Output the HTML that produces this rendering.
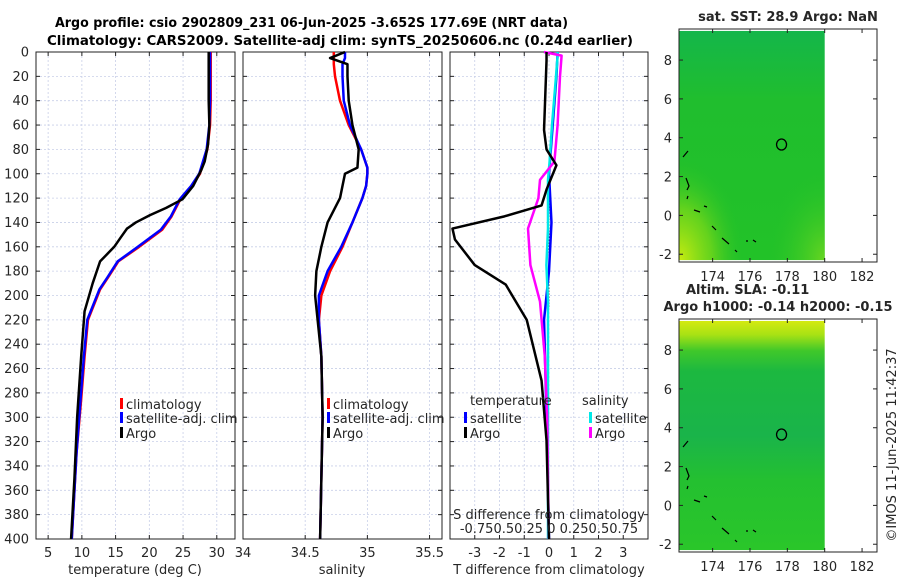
<!DOCTYPE html>
<html><head><meta charset="utf-8">
<style>
body{margin:0;background:#fff;}
svg{display:block;font-family:"DejaVu Sans","Liberation Sans",sans-serif;}
</style></head>
<body>
<svg id="c" width="900" height="580" viewBox="0 0 900 580">
<defs>
<linearGradient id="m1" x1="0" y1="0" x2="0" y2="1">
<stop offset="0" stop-color="#14b64a"/><stop offset="0.3" stop-color="#20be2e"/><stop offset="1" stop-color="#22c228"/>
</linearGradient>
<radialGradient id="m1c" cx="0" cy="1" r="0.45">
<stop offset="0" stop-color="#c8ec10" stop-opacity="1"/><stop offset="0.5" stop-color="#80da18" stop-opacity="0.7"/><stop offset="1" stop-color="#22c228" stop-opacity="0"/>
</radialGradient>
<radialGradient id="m1d" cx="1" cy="1" r="0.4">
<stop offset="0" stop-color="#70d820" stop-opacity="0.9"/><stop offset="1" stop-color="#22c228" stop-opacity="0"/>
</radialGradient>
<linearGradient id="m2" x1="0" y1="0" x2="0" y2="1">
<stop offset="0" stop-color="#d4ea10"/><stop offset="0.06" stop-color="#a8e214"/><stop offset="0.13" stop-color="#40c82a"/><stop offset="0.22" stop-color="#1cb840"/><stop offset="0.5" stop-color="#1ab44a"/><stop offset="0.7" stop-color="#24c030"/><stop offset="1" stop-color="#2ac62a"/>
</linearGradient>
</defs>
<text x="55" y="27" textLength="513" lengthAdjust="spacingAndGlyphs" font-size="13.5" font-weight="bold">Argo profile: csio 2902809_231 06-Jun-2025 -3.652S 177.69E (NRT data)</text>
<text x="47" y="45" textLength="586" lengthAdjust="spacingAndGlyphs" font-size="13.5" font-weight="bold">Climatology: CARS2009. Satellite-adj clim: synTS_20250606.nc (0.24d earlier)</text>
<g id="g"></g>
</svg>
<script>
// ---- data ----
const depthTicks=[0,20,40,60,80,100,120,140,160,180,200,220,240,260,280,300,320,340,360,380,400];
const tempTicks=[5,10,15,20,25,30];
const salTicks=[34,34.5,35,35.5];
const salTickLabels=["34","34.5","35","35.5"];
const dTTicks=[-3,-2,-1,0,1,2,3];
const mapXTicks=[174,176,178,180,182];
const mapYTicks=[8,6,4,2,0,-2];

const argoT_depth=[0,20,40,60,76,90,97,110,121,128,134,140,145,152,160,172,190,213,250,300,350,400];
const argoT=[28.8,28.8,28.8,28.9,28.7,28.2,27.7,26.5,24.9,22.5,20.1,18.0,16.7,15.8,14.8,12.7,11.6,10.4,9.9,9.3,8.9,8.4];
const clim_depth=[0,20,40,60,80,100,110,121,135,146,160,172,185,195,220,250,285,330,400];
const climT=[29.1,29.1,29.1,29.0,28.6,27.5,26.3,24.6,23.3,21.9,18.5,15.4,13.9,12.7,10.9,10.4,9.9,9.2,8.5];
const satT=[29.0,29.0,29.0,28.9,28.5,27.4,26.2,24.5,23.2,21.7,18.3,15.3,13.8,12.6,10.8,10.3,9.8,9.2,8.5];

const sal_depth=[0,5,10,20,40,60,80,95,100,110,120,140,160,180,200,220,250,300,350,400];
const argoS=[34.82,34.70,34.84,34.84,34.85,34.88,34.93,34.92,34.82,34.80,34.78,34.68,34.63,34.59,34.58,34.60,34.63,34.64,34.63,34.62];
const climS=[34.73,34.73,34.73,34.74,34.78,34.85,34.95,35.0,35.0,34.99,34.96,34.88,34.80,34.70,34.63,34.61,34.63,34.64,34.63,34.62];
const satS=[34.82,34.82,34.80,34.80,34.81,34.86,34.95,35.0,35.0,34.99,34.96,34.88,34.79,34.68,34.61,34.61,34.63,34.64,34.63,34.62];

const dT_depth=[0,7,64,80,93,113,126,135,145,154,175,191,220,270,319,400];
const argoDT=[-0.1,-0.1,-0.2,-0.1,0.3,-0.1,-0.3,-1.8,-3.9,-3.8,-3.0,-1.75,-0.9,-0.3,-0.1,0.0];
const satDT_depth=[0,20,60,100,140,180,220,260,300,400];
const satDT=[0.35,0.3,0.15,0.0,0.1,0.0,-0.2,-0.15,-0.1,0.0];
const dS_depth=[0,3,20,60,90,105,120,145,175,205,250,300,400];
const argoDS=[-0.05,0.17,0.15,0.12,0.08,-0.1,-0.12,-0.25,-0.22,-0.1,-0.04,-0.01,0.01];
const satDS=[0.12,0.12,0.1,0.05,0.02,0.0,0.0,0.0,-0.02,0.0,0.0,0.0,0.0];
const argoLon=[177.69];
const argoLat=[3.65];

// ---- helpers ----
const NS="http://www.w3.org/2000/svg";
const G=document.getElementById('g');
function mk(tag,at,parent){const e=document.createElementNS(NS,tag);for(const k in at)e.setAttribute(k,at[k]);(parent||G).appendChild(e);return e;}
function lin(d0,d1,r0,r1){return v=>r0+(v-d0)/(d1-d0)*(r1-r0);}
const Y0=52,Y1=539;
const yD=lin(0,400,Y0,Y1);

function panel(x0,x1,xs,xticks,xlabels,name){
  const grid=mk('g',{});
  
  
  depthTicks.forEach(d=>{mk('line',{x1:x0,x2:x1,y1:yD(d),y2:yD(d),stroke:'#c8cfe8','stroke-width':0.8,'stroke-dasharray':'2,2'},grid);});
  xticks.forEach(t=>{mk('line',{x1:xs(t),x2:xs(t),y1:Y0,y2:Y1,stroke:'#c8cfe8','stroke-width':0.8,'stroke-dasharray':'2,2'},grid);});
  const fr=mk('rect',{x:x0,y:Y0,width:x1-x0,height:Y1-Y0,fill:'none',stroke:'#222','stroke-width':1});
  
  
  xticks.forEach((t,i)=>{
    mk('line',{x1:xs(t),x2:xs(t),y1:Y1,y2:Y1-4,stroke:'#222'});
    mk('line',{x1:xs(t),x2:xs(t),y1:Y0,y2:Y0+4,stroke:'#222'});
    const tx=mk('text',{x:xs(t),y:557,'text-anchor':'middle','font-size':13,fill:'#262626'});
    tx.textContent=xlabels[i];
    
    
  });
  depthTicks.forEach(d=>{mk('line',{x1:x0,x2:x0+4,y1:yD(d),y2:yD(d),stroke:'#222'});mk('line',{x1:x1,x2:x1-4,y1:yD(d),y2:yD(d),stroke:'#222'});});
}
function line(xs,xv,dv,col,w,name){
  const p=mk('polyline',{points:xv.map((v,i)=>xs(v)+','+yD(dv[i])).join(' '),fill:'none',stroke:col,'stroke-width':w,'stroke-linejoin':'round'});
  
  
}
function txt(x,y,s,name,opt){const t=mk('text',Object.assign({x:x,y:y,'font-size':13,fill:'#262626'},opt||{}));t.textContent=s;return t;}
function leg(x,y,col,label,name){
  const r=mk('rect',{x:x,y:y-11,width:3,height:11,fill:col});
  
  
  txt(x+6,y,label,name);
}

// y tick labels
depthTicks.forEach(d=>{txt(29,yD(d)+4.5,String(d),'y-tick-label',{'text-anchor':'end'});});

// Panel 1 temperature
const xT=lin(3.2,32.7,36,235);
panel(36,235,xT,tempTicks,tempTicks.map(String),'temperature-panel');
line(xT,climT,clim_depth,'#ff0000',2.5,'temp-climatology-line');
line(xT,satT,clim_depth,'#0000ff',2.5,'temp-satellite-line');
line(xT,argoT,argoT_depth,'#000',2.5,'temp-argo-line');
txt(135,574,'temperature (deg C)','temperature-axis-title',{'text-anchor':'middle'});
leg(120,409,'#ff0000','climatology','temp-legend-climatology');
leg(120,423,'#0000ff','satellite-adj. clim','temp-legend-satellite');
leg(120,438,'#000','Argo','temp-legend-argo');

// Panel 2 salinity
const xS=lin(34,35.6,243,442);
panel(243,442,xS,salTicks,salTickLabels,'salinity-panel');
line(xS,climS,sal_depth,'#ff0000',2.5,'sal-climatology-line');
line(xS,satS,sal_depth,'#0000ff',2.5,'sal-satellite-line');
line(xS,argoS,sal_depth,'#000',2.5,'sal-argo-line');
txt(342,574,'salinity','salinity-axis-title',{'text-anchor':'middle'});
leg(327,409,'#ff0000','climatology','sal-legend-climatology');
leg(327,423,'#0000ff','satellite-adj. clim','sal-legend-satellite');
leg(327,438,'#000','Argo','sal-legend-argo');

// Panel 3 differences
const xDT=lin(-4,4,450,648);
const xDS=lin(-1,1,468,628);
panel(450,648,xDT,dTTicks,dTTicks.map(String),'difference-panel');
const z=mk('line',{x1:xDT(0),x2:xDT(0),y1:yD(95),y2:yD(210),stroke:'#000','stroke-dasharray':'1,2'});


line(xDT,satDT,satDT_depth,'#0000ff',2.5,'dT-satellite-line');
line(xDS,satDS,dS_depth,'#00e8e8',2.5,'dS-satellite-line');
line(xDS,argoDS,dS_depth,'#ff00ff',2.5,'dS-argo-line');
line(xDT,argoDT,dT_depth,'#000',2.5,'dT-argo-line');
txt(549,574,'T difference from climatology','dT-axis-title',{'text-anchor':'middle'});
txt(549,519,'S difference from climatology','dS-axis-title',{'text-anchor':'middle'});
txt(549,533,'-0.750.50.25 0 0.250.50.75','dS-tick-labels',{'text-anchor':'middle'});
txt(470,405,'temperature','dT-legend-title');
txt(582,405,'salinity','dS-legend-title');
leg(464,423,'#0000ff','satellite','dT-legend-satellite');
leg(464,438,'#000','Argo','dT-legend-argo');
leg(589,423,'#00e8e8','satellite','dS-legend-satellite');
leg(589,438,'#ff00ff','Argo','dS-legend-argo');

// Maps
function map(top,fills,name){
  const bot=top+233;
  const mx=lin(172.2,182.8,679,877);
  const my=lin(9.6,-2.4,top,bot);
  fills.forEach((fl,i)=>{
    const r=mk('rect',{x:679,y:my(9.5),width:mx(180)-679,height:my(-2.3)-my(9.5),fill:fl});
    
    
  });
  const f=mk('rect',{x:679,y:top,width:198,height:233,fill:'none',stroke:'#222'});
  
  
  mapXTicks.forEach(t=>{mk('line',{x1:mx(t),x2:mx(t),y1:bot,y2:bot-4,stroke:'#222'});mk('line',{x1:mx(t),x2:mx(t),y1:top,y2:top+4,stroke:'#222'});
    txt(mx(t),bot+19,String(t),name+'-x-tick',{'text-anchor':'middle'});});
  mapYTicks.forEach(t=>{mk('line',{x1:679,x2:683,y1:my(t),y2:my(t),stroke:'#222'});mk('line',{x1:877,x2:873,y1:my(t),y2:my(t),stroke:'#222'});
    txt(672,my(t)+5,String(t),name+'-y-tick',{'text-anchor':'end'});});
  const c=mk('ellipse',{cx:mx(argoLon[0]),cy:my(argoLat[0]),rx:5,ry:5.5,fill:'none',stroke:'#000','stroke-width':1.3});
  
  
  const isl=mk('path',{d:'M683 157 L688 151 M686 178 L689 186 L687 190 M688 196 L687 199 M694 210 L700 212 M704 206 L707 207 M712 226 L716 230 M722 238 L729 244 M735 250 L737 252 M746 241 L748 241 M753 240 L756 242',fill:'none',stroke:'#000','stroke-width':1.2,transform:'translate(0,'+(top-29)+')'});
  
  
}
txt(788,21,'sat. SST: 28.9 Argo: NaN','sst-map-title',{'text-anchor':'middle','font-weight':'bold'});
map(29,['url(#m1)','url(#m1c)','url(#m1d)'],'sst-map');
txt(686,294,'Altim. SLA: -0.11','sla-map-title',{'font-weight':'bold'});
txt(778,311,'Argo h1000: -0.14 h2000: -0.15','sla-map-subtitle',{'text-anchor':'middle','font-weight':'bold'});
map(319,['url(#m2)'],'sla-map');
txt(0,0,'©IMOS 11-Jun-2025 11:42:37','timestamp',{transform:'translate(896,445) rotate(-90)','text-anchor':'middle'});
</script>
</body></html>
